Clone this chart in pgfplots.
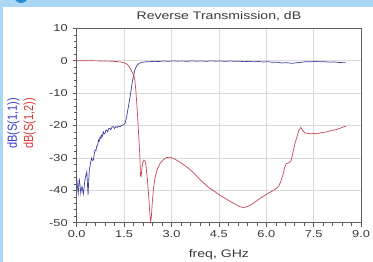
\documentclass[border=0pt]{standalone}
\usepackage{fontspec}
\setmainfont{Liberation Sans}[FakeStretch=1.28]
\newfontfamily\ylabfont{Liberation Sans}
\usepackage{pgfplots}
\pgfplotsset{compat=1.18}
\definecolor{bandblue}{HTML}{AAD8F3}
\definecolor{circblue}{HTML}{2C8AD0}
\definecolor{sblue}{HTML}{3E3FA0}
\definecolor{sred}{HTML}{C4485A}
\definecolor{lblue}{HTML}{3A3CC8}
\definecolor{lred}{HTML}{D8353A}
\definecolor{txt}{HTML}{3A3A3A}
\begin{document}
\begin{tikzpicture}
\path[use as bounding box] (0pt,0pt) rectangle (373pt,262pt);
\fill[white] (0pt,0pt) rectangle (373pt,262pt);
\fill[bandblue] (0pt,255pt) rectangle (373pt,262pt);
\fill[bandblue] (0pt,0pt) rectangle (3pt,262pt);
\fill[circblue] (21pt,266pt) circle (7pt);
\begin{axis}[
  at={(76.7pt,39.3pt)}, anchor=south west,
  width=284.4pt, height=194.4pt, scale only axis,
  xmin=0, xmax=9, ymin=-50, ymax=10,
  xtick={0,1.5,3,4.5,6,7.5,9},
  ytick={-50,-40,-30,-20,-10,0,10},
  minor x tick num=4, minor y tick num=4,
  xtick pos=left, ytick pos=left,
  tick align=outside,
  major tick length=4pt, minor tick length=3pt,
  every tick/.style={gray!70!black, line width=0.5pt},
  grid=major,
  major grid style={gray!30, line width=0.5pt},
  axis line style={gray!75!black, line width=0.7pt},
  /pgf/number format/assume math mode=true,
  tick label style={font=\fontsize{10}{12}\selectfont, text=txt},
  xticklabel style={/pgf/number format/.cd, fixed, fixed zerofill, precision=1},
  yticklabel style={xshift=-1.5pt},
  title={Reverse Transmission, dB},
  title style={at={(axis description cs:0.5,1)}, anchor=base, yshift=3.3pt, font=\fontsize{11}{13}\selectfont, text=txt},
  xlabel={freq, GHz},
  xlabel style={at={(axis description cs:0.5,0)}, anchor=base, yshift=-35.3pt, font=\fontsize{11}{13}\selectfont, text=txt},
  clip=false,
]
\addplot[sblue, line width=0.7pt] coordinates {
(0.00,-36.3) (0.03,-39.5) (0.05,-40.9) (0.08,-36.3) (0.10,-38) (0.13,-40.9) (0.15,-39.5) (0.17,-38.9) (0.21,-41.1) (0.24,-38.5) (0.26,-36.8) (0.29,-35.5) (0.32,-34.3) (0.34,-38) (0.36,-41.4) (0.38,-37) (0.40,-33.7) (0.44,-31.5) (0.47,-30.1) (0.50,-30.8) (0.53,-30.6) (0.56,-28.5) (0.58,-27.6) (0.61,-27.8) (0.63,-26.5) (0.66,-26.2) (0.69,-24.5) (0.71,-24.9) (0.74,-23.5) (0.77,-24.0) (0.79,-22.9) (0.82,-23.3) (0.84,-21.9) (0.87,-22.6) (0.90,-22.4) (0.92,-21.5) (0.95,-21.4) (0.98,-21.9) (1.01,-21.0) (1.05,-20.9) (1.08,-21.3) (1.12,-20.4) (1.16,-20.4) (1.20,-20.9) (1.24,-20.3) (1.28,-20.6) (1.32,-20.2) (1.37,-20.4) (1.42,-20.0) (1.48,-19.8) (1.53,-19.3) (1.58,-17.3) (1.63,-14.5) (1.69,-11.1) (1.73,-8.5) (1.77,-6.0) (1.81,-4.2) (1.84,-2.9) (1.88,-1.9) (1.92,-1.3) (1.98,-0.8) (2.06,-0.5) (2.2,-0.35) (2.32,-0.3) (2.45,-0.2) (2.6,-0.25) (2.75,-0.1) (2.9,-0.2) (3.05,-0.05) (3.2,-0.15) (3.35,-0.1) (3.5,-0.2) (3.65,-0.05) (3.8,-0.15) (3.95,-0.1) (4.1,-0.2) (4.25,-0.05) (4.4,-0.15) (4.55,-0.1) (4.7,-0.2) (4.85,-0.1) (5.0,-0.2) (5.15,-0.15) (5.3,-0.3) (5.45,-0.2) (5.6,-0.35) (5.75,-0.25) (5.9,-0.4) (6.05,-0.3) (6.2,-0.5) (6.35,-0.45) (6.5,-0.7) (6.65,-0.6) (6.8,-0.8) (6.95,-0.65) (7.1,-0.5) (7.25,-0.3) (7.4,-0.35) (7.55,-0.2) (7.7,-0.35) (7.85,-0.3) (8.0,-0.45) (8.15,-0.4) (8.3,-0.55) (8.45,-0.6) (8.52,-0.6)
};
\addplot[sred, line width=0.7pt] coordinates {
(0,0) (0.3,0) (0.6,-0.05) (0.9,-0.1) (1.1,-0.15) (1.3,-0.3) (1.45,-0.5) (1.55,-0.8) (1.62,-1.3) (1.69,-2.3) (1.74,-3.3) (1.78,-3.9) (1.81,-4.6) (1.84,-6) (1.87,-9) (1.90,-13) (1.92,-16) (1.95,-21) (1.98,-26) (2.00,-30) (2.02,-35.5) (2.04,-35.8) (2.06,-33.5) (2.09,-31.5) (2.13,-30.7) (2.17,-31.0) (2.20,-33) (2.24,-37) (2.28,-42) (2.31,-46.5) (2.34,-49.7) (2.36,-48.5) (2.39,-44) (2.43,-39.5) (2.48,-36) (2.55,-33.5) (2.64,-31.7) (2.75,-30.5) (2.85,-29.9) (2.95,-29.8) (3.05,-30.1) (3.2,-30.9) (3.4,-32.2) (3.6,-33.7) (3.8,-35.6) (3.9,-36.7) (4.0,-37.6) (4.2,-39.3) (4.4,-40.6) (4.54,-41.6) (4.7,-42.5) (4.85,-43.4) (5.0,-44.2) (5.15,-45.0) (5.27,-45.4) (5.4,-45.0) (5.55,-44.3) (5.7,-43.2) (5.8,-42.5) (5.95,-41.6) (6.1,-40.7) (6.25,-39.9) (6.38,-38.9) (6.45,-37.5) (6.52,-35.5) (6.58,-33) (6.63,-31.8) (6.72,-31.5) (6.78,-31.0) (6.84,-28.5) (6.9,-25.8) (6.97,-23.5) (7.03,-21.5) (7.09,-20.6) (7.15,-21.5) (7.22,-22.3) (7.3,-22.4) (7.4,-22.6) (7.5,-22.4) (7.6,-22.6) (7.7,-22.3) (7.8,-22.1) (7.9,-22.0) (8.0,-21.7) (8.1,-21.5) (8.23,-21.2) (8.35,-20.8) (8.45,-20.4) (8.52,-20.2)
};
\node[rotate=90, yscale=1.2, text=lblue, font=\ylabfont\fontsize{11}{13}\selectfont] at (axis description cs:-0.222,0.51) {dB(S(1,1))};
\node[rotate=90, yscale=1.2, text=lred, font=\ylabfont\fontsize{11}{13}\selectfont] at (axis description cs:-0.165,0.51) {dB(S(1,2))};
\end{axis}
\end{tikzpicture}
\end{document}
